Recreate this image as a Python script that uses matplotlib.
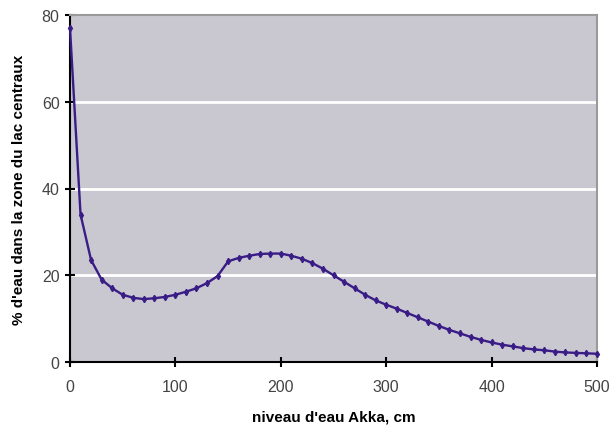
import matplotlib
matplotlib.use("Agg")
import matplotlib.pyplot as plt

niveau_cm = list(range(0, 501, 10))
pct_eau = [77, 34, 23.5, 19, 17, 15.5, 14.8, 14.5, 14.7, 15,
           15.5, 16.2, 17, 18.2, 19.8, 23.2, 24, 24.5, 24.9, 25,
           25, 24.5, 23.8, 22.8, 21.5, 20, 18.5, 17, 15.5, 14.2,
           13.2, 12.3, 11.3, 10.3, 9.3, 8.3, 7.4, 6.6, 5.8, 5.1,
           4.5, 4.0, 3.6, 3.2, 2.9, 2.7, 2.4, 2.2, 2.1, 2.0, 1.9]
x_ticks = [0, 100, 200, 300, 400, 500]
y_ticks = [0, 20, 40, 60, 80]

plt.rcParams['font.family'] = ['Liberation Sans', 'DejaVu Sans']

fig = plt.figure(figsize=(6.11, 4.31), dpi=100)
ax = fig.add_axes([70/611, 1-363/431, (597-70)/611, (363-16)/431])
ax.set_facecolor('#c9c8d0')
ax.set_xlim(0, 500)
ax.set_ylim(0, 80)
ax.set_xticks(x_ticks)
ax.set_yticks(y_ticks)
for y in y_ticks[1:-1]:
    ax.axhline(y, color='white', lw=2, zorder=1)

ax.plot(niveau_cm, pct_eau, color='#3a1c86', lw=1.7, marker='d',
        markersize=3.2, zorder=3, clip_on=False)

for s in ['top', 'right']:
    ax.spines[s].set_color('#9a9a9a')
    ax.spines[s].set_linewidth(1.5)
for s in ['left', 'bottom']:
    ax.spines[s].set_color('black')
    ax.spines[s].set_linewidth(1.5)
ax.tick_params(direction='inout', length=7, width=1.5, labelsize=11.5,
               labelcolor='#444444', pad=4)
ax.tick_params(axis='x', pad=9)

ax.set_xlabel("niveau d'eau Akka, cm", fontsize=11, fontweight='bold',
              labelpad=11)
ax.set_ylabel("% d'eau dans la zone du lac centraux", fontsize=11,
              fontweight='bold', labelpad=11)

fig.savefig('out.png', dpi=100)
